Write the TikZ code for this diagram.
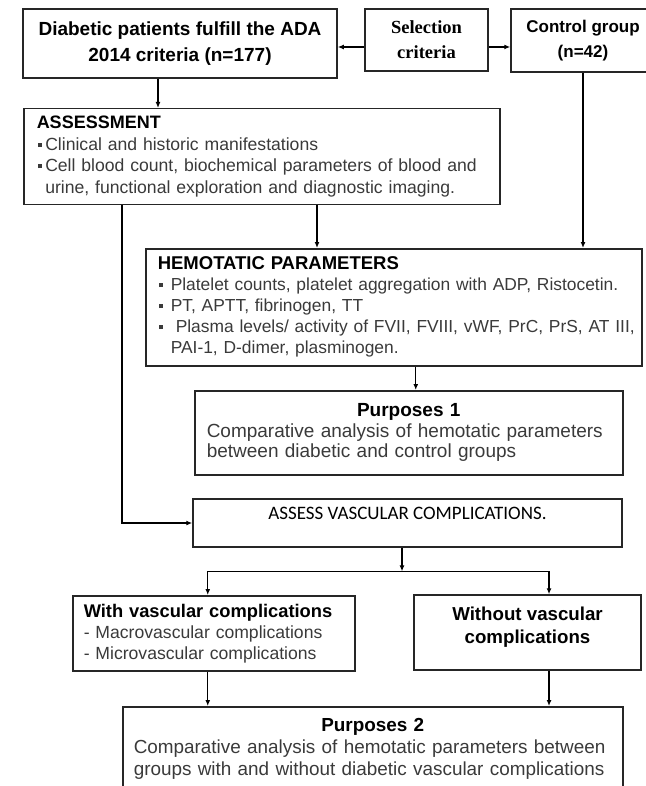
\documentclass[tikz,border=0pt]{standalone}
\usepackage{fontspec}
\setmainfont{Liberation Sans}
\newfontfamily\hpserif{Liberation Serif}
\newfontfamily\hpcal{Carlito}
\usepackage{xcolor}
\definecolor{hpline}{HTML}{262626}
\definecolor{hptext}{HTML}{3A3A3A}
\usetikzlibrary{arrows.meta,positioning,calc}
\newcommand{\hpfs}[2]{\fontsize{#1}{#2}\selectfont}
\newcommand{\hpsq}[1][8.5pt]{\makebox[#1][l]{\hspace*{1.5pt}\rule[.22em]{3.6pt}{3.6pt}}}
\tikzset{
  hpbox/.style={draw=hpline,line width=1.5pt,inner sep=0pt,align=center,text=black},
  hpleft/.style={hpbox,anchor=north west,align=left,text=hptext},
  hpflow/.style={-{Latex[length=6pt,width=5pt]},line width=1.3pt},
}

\begin{document}
\begin{tikzpicture}[x=1pt,y=-1pt]
\useasboundingbox (0,0) rectangle (645,786);
% top row
\node[hpbox,minimum width=314pt,minimum height=69pt,font=\hpfs{19}{26}\bfseries] (dia) at (180,43.5) {Diabetic patients fulfill the ADA\\2014 criteria (n=177)};
\node[hpbox,minimum width=123pt,minimum height=62pt,font=\hpserif\hpfs{18.5}{25}\bfseries] (sel) at (426.5,40) {Selection\\criteria};
\node[hpbox,minimum width=144pt,minimum height=63pt,font=\hpfs{17}{25}\bfseries] (ctl) at (583,40.5) {Control group\\(n=42)};
% assessment and parameters
\node[hpleft,minimum width=476pt,minimum height=96pt,inner xsep=13pt,text width=450pt,font=\hpfs{17.6}{21.5}] (asm) at (23,108) {\textcolor{black}{\hpfs{18}{21.5}\textbf{ASSESSMENT}}\\
\hpsq Clinical and historic manifestations\\
\mbox{\hpsq Cell blood count, biochemical parameters of blood and}\\
\hspace*{8.5pt}urine, functional exploration and diagnostic imaging.};
\node[hpleft,minimum width=496pt,minimum height=117pt,inner xsep=12pt,text width=472pt,font=\hpfs{17.4}{21}] (hem) at (145,248) {\textcolor{black}{\hpfs{18.5}{21}\textbf{HEMOTATIC PARAMETERS}}\\
\mbox{\hpsq[13pt]Platelet counts, platelet aggregation with ADP, Ristocetin.}\\
\hpsq[13pt]PT, APTT, fibrinogen, TT\\
\mbox{\hpsq[18pt]Plasma levels/ activity of FVII, FVIII, vWF, PrC, PrS, AT III,}\\
\hspace*{13pt}PAI-1, D-dimer, plasminogen.};
\node[hpleft,minimum width=428pt,minimum height=84pt,inner xsep=12pt,text width=404pt,font=\hpfs{19}{20.5}] (p1) at (194,390) {\hfill\textcolor{black}{\textbf{Purposes 1}}\hfill\null\\
Comparative analysis of hemotatic parameters\\
between diabetic and control groups};
% vascular complications
\node[hpbox,minimum width=429pt,minimum height=48pt,text height=14pt,text depth=22pt,font=\hpcal\hpfs{19}{22},text=black] (avc) at (407.5,523) {ASSESS VASCULAR COMPLICATIONS.};
\node[hpleft,minimum width=282pt,minimum height=75pt,inner xsep=11pt,text width=260pt,font=\hpfs{17.6}{21}] (wv) at (72,595) {\textcolor{black}{\hpfs{18.3}{21}\textbf{With vascular complications}}\\
- Macrovascular complications\\
- Microvascular complications};
\node[hpbox,minimum width=227pt,minimum height=75pt,text depth=15pt,font=\hpfs{18.7}{23}\bfseries] (wov) at (527.5,632.5) {Without vascular\\complications};
\node[hpleft,minimum width=500pt,minimum height=84pt,inner xsep=11pt,text width=478pt,font=\hpfs{18.9}{22}] (p2) at (122,706) {\hfill\textcolor{black}{\textbf{Purposes 2}}\hfill\null\\
Comparative analysis of hemotatic parameters between\\
groups with and without diabetic vascular complications};
% connectors
\draw[hpflow] ([yshift=-7pt]sel.west) -- ([yshift=-7pt]sel.west -| dia.east);
\draw[hpflow] ([yshift=-7pt]sel.east) -- ([yshift=-7pt]sel.east -| ctl.west);
\draw[hpflow] ([xshift=-22pt]dia.south) -- ([xshift=-22pt]dia.south |- asm.north);
\draw[hpflow] ([xshift=99pt]asm.south west) |- (avc.west);
\draw[hpflow] ([xshift=294pt]asm.south west) -- ([xshift=294pt]asm.south west |- hem.north);
\draw[hpflow] (ctl.south) -- (ctl.south |- hem.north);
\draw[hpflow] ([xshift=7pt]p1.north |- hem.south) -- ([xshift=7pt]p1.north);
\coordinate (sp) at ([xshift=-5.5pt]$(avc.south)!.5!(avc.south |- wv.north)$);
\draw[hpflow] (avc.south -| sp) -- (sp);
\draw[hpflow] (sp) -| ([xshift=-6pt]wv.north);
\draw[hpflow] (sp) -| ([xshift=21.5pt]wov.north);
\draw[hpflow] ([xshift=-6pt]wv.south) -- ([xshift=-6pt]wv.south |- p2.north);
\draw[hpflow] ([xshift=21.5pt]wov.south) -- ([xshift=21.5pt]wov.south |- p2.north);
\end{tikzpicture}
\end{document}
